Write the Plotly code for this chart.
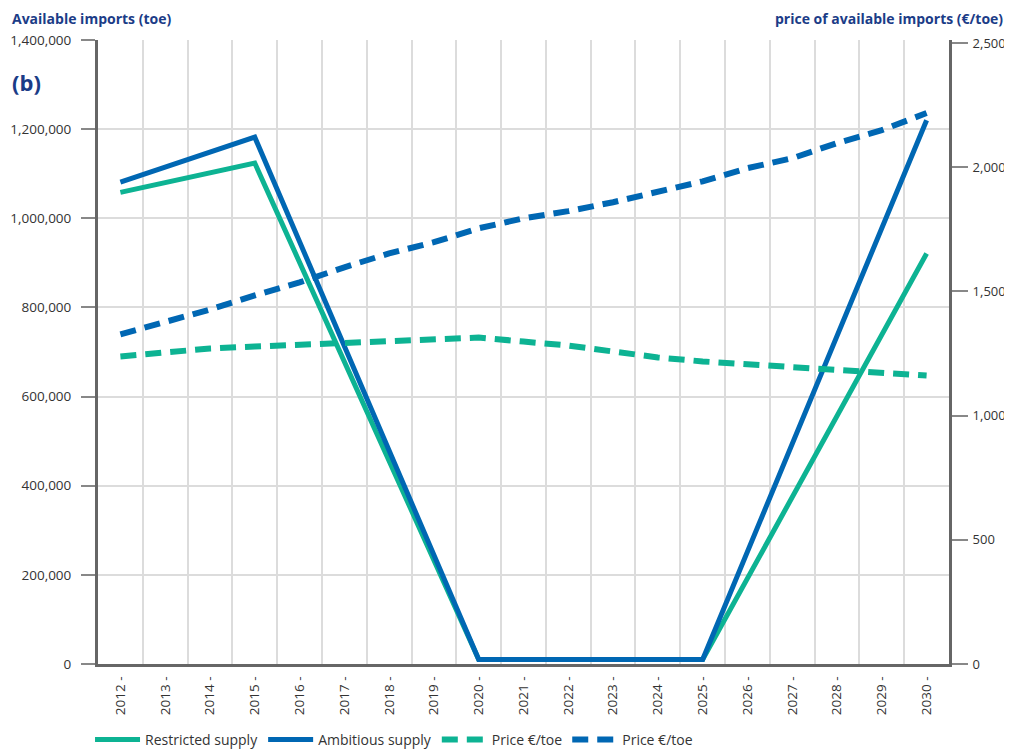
import plotly.graph_objects as go

# years on the x axis
years = list(range(2012, 2031))

# available imports (toe), straight segments between these years
supply_years = [2012, 2015, 2020, 2025, 2030]
restricted_supply = [1058000, 1124000, 10000, 10000, 921000]
ambitious_supply = [1081000, 1182000, 10000, 10000, 1220000]

# price of available imports (EUR/toe), one value per year
price_restricted = [1238, 1254, 1270, 1278, 1286, 1294, 1302, 1306, 1314,
                    1298, 1282, 1258, 1234, 1218, 1206, 1193, 1181, 1169, 1161]
price_ambitious = [1327, 1375, 1427, 1484, 1536, 1597, 1653, 1698, 1754,
                   1794, 1823, 1859, 1899, 1943, 1996, 2036, 2097, 2149, 2218]

GREEN = "#0db393"
BLUE = "#0067b3"
NAVY = "#1b3c87"
FONT = "Open Sans"

fig = go.Figure()
fig.add_trace(go.Scatter(x=supply_years, y=restricted_supply, mode="lines",
                         name="Restricted supply",
                         line=dict(color=GREEN, width=5)))
fig.add_trace(go.Scatter(x=supply_years, y=ambitious_supply, mode="lines",
                         name="Ambitious supply",
                         line=dict(color=BLUE, width=5)))
fig.add_trace(go.Scatter(x=years, y=price_restricted, mode="lines",
                         name="Price €/toe", yaxis="y2",
                         line=dict(color=GREEN, width=6, dash="16px,9px")))
fig.add_trace(go.Scatter(x=years, y=price_ambitious, mode="lines",
                         name="Price €/toe", yaxis="y2",
                         line=dict(color=BLUE, width=6, dash="16px,9px")))

# the page body has an 8px margin, so the figure is 8px smaller than the window
fig.update_layout(
    width=1004, height=743,
    margin=dict(l=90, r=63, t=32, b=87),
    paper_bgcolor="white", plot_bgcolor="white",
    font=dict(family=FONT, size=13.5, color="#333333"),
    xaxis=dict(
        range=[2011.5, 2030.5], automargin=False,
        tickmode="array", tickvals=years,
        ticktext=[f"{y} -" for y in years],
        tickangle=-90, showgrid=False, zeroline=False,
        showline=True, linewidth=3, linecolor="#666666",
        ticks="", ticklabelstandoff=4, tickfont=dict(size=13.5),
        minor=dict(tick0=2011.5, dtick=1, showgrid=True,
                   gridcolor="#dcdcdc", gridwidth=1.5, ticks=""),
    ),
    yaxis=dict(
        range=[0, 1400000], dtick=200000, tickformat=",", automargin=False,
        showgrid=True, gridcolor="#dcdcdc", gridwidth=1.5, zeroline=False,
        showline=True, linewidth=3, linecolor="#666666",
        ticks="outside", ticklen=14, tickwidth=2, tickcolor="#888888",
        ticklabelstandoff=7,
    ),
    yaxis2=dict(
        range=[0, 2512], tickvals=[0, 500, 1000, 1500, 2000, 2500],
        tickformat=",", automargin=False,
        overlaying="y", side="right",
        showgrid=False, zeroline=False,
        showline=True, linewidth=3, linecolor="#666666",
        ticks="outside", ticklen=16, tickwidth=2, tickcolor="#888888",
        ticklabelstandoff=2, tickfont=dict(size=13),
    ),
    legend=dict(
        orientation="h", xref="container", x=0.0817, xanchor="left",
        yref="container", y=0.0148, yanchor="middle",
        font=dict(size=14, color="#333333"), itemwidth=45,
        traceorder="normal",
    ),
    showlegend=True,
)

fig.add_annotation(text="<b>Available imports (toe)</b>", xref="paper", yref="paper",
                   x=-0.1034, y=1.035, xanchor="left", yanchor="middle",
                   showarrow=False, font=dict(size=14, color=NAVY, family=FONT))
fig.add_annotation(text="<b>(b)</b>", xref="paper", yref="paper",
                   x=-0.1034, y=0.933, xanchor="left", yanchor="middle",
                   showarrow=False, font=dict(size=22, color=NAVY, family=FONT))
fig.add_annotation(text="<b>price of available imports (€/toe)</b>", xref="paper", yref="paper",
                   x=1.066, y=1.035, xanchor="right", yanchor="middle",
                   showarrow=False, font=dict(size=14, color=NAVY, family=FONT))

fig.write_html("out.html")
